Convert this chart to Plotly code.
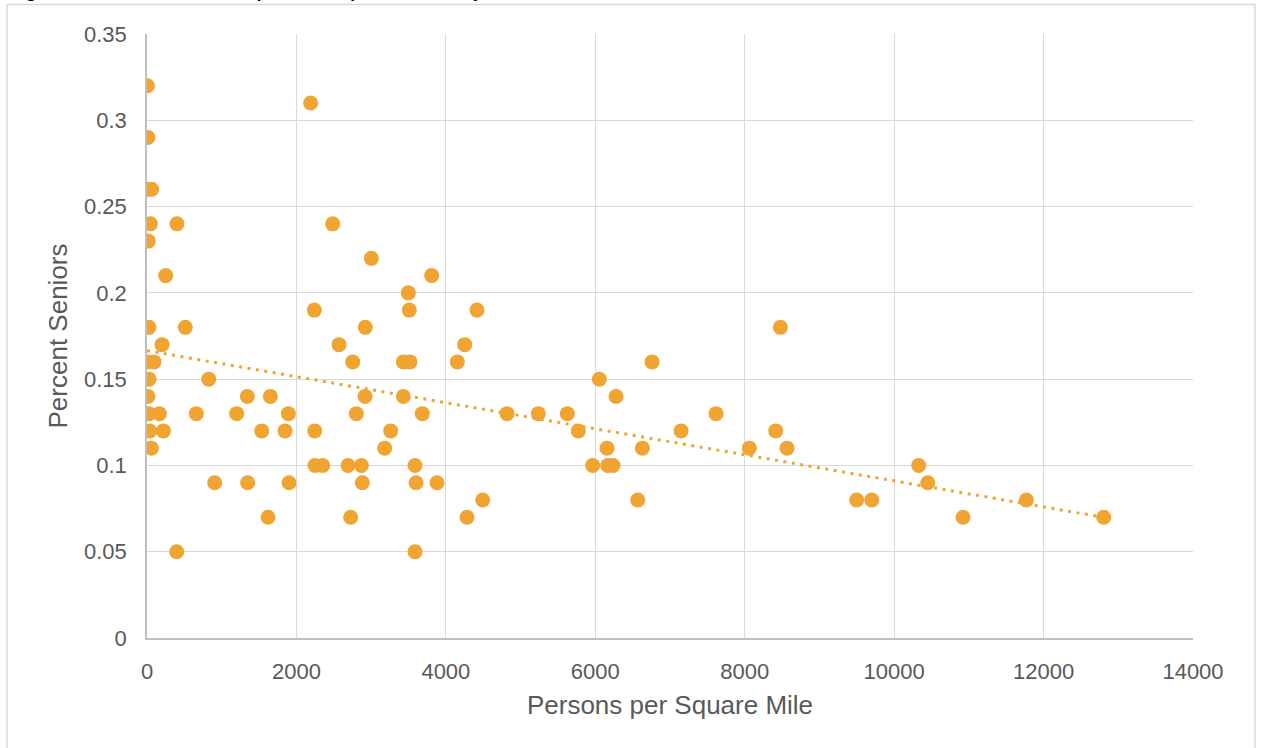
import numpy as np
import plotly.graph_objects as go

# Persons per square mile (x) and percent seniors (y)
density = [
    5, 2190, 13, 5, 63, 45, 401, 2485, 17, 250, 3003, 3810, 3498, 3511, 4417, 2240,
    27, 513, 2922, 8477, 201, 2570, 4252, 5, 94, 2753, 3431, 3520, 4154, 6760,
    27, 826, 6054, 13, 1343, 1651, 2918, 3431, 6278,
    27, 165, 660, 1200, 1892, 2802, 3685, 4819, 5238, 5626, 7616,
    36, 219, 1535, 1847, 2245, 3262, 5773, 7148, 8415,
    58, 3181, 6157, 6630, 8062, 8566,
    2249, 2351, 2690, 2869, 3587, 5965, 6166, 6237, 10329,
    906, 1347, 1901, 2882, 3601, 3882, 10450,
    4493, 6568, 9499, 9700, 11770,
    1620, 2726, 4283, 10922, 12805,
    397, 3587,
]
seniors = [
    0.32, 0.31, 0.29, 0.26, 0.26, 0.24, 0.24, 0.24, 0.23, 0.21, 0.22, 0.21, 0.20, 0.19, 0.19, 0.19,
    0.18, 0.18, 0.18, 0.18, 0.17, 0.17, 0.17, 0.16, 0.16, 0.16, 0.16, 0.16, 0.16, 0.16,
    0.15, 0.15, 0.15, 0.14, 0.14, 0.14, 0.14, 0.14, 0.14,
    0.13, 0.13, 0.13, 0.13, 0.13, 0.13, 0.13, 0.13, 0.13, 0.13, 0.13,
    0.12, 0.12, 0.12, 0.12, 0.12, 0.12, 0.12, 0.12, 0.12,
    0.11, 0.11, 0.11, 0.11, 0.11, 0.11,
    0.10, 0.10, 0.10, 0.10, 0.10, 0.10, 0.10, 0.10, 0.10,
    0.09, 0.09, 0.09, 0.09, 0.09, 0.09, 0.09,
    0.08, 0.08, 0.08, 0.08, 0.08,
    0.07, 0.07, 0.07, 0.07, 0.07,
    0.05, 0.05,
]

title_text = "Figure 2: Percent Seniors compared to Population Density"
x_title = "Persons per Square Mile"
y_title = "Percent Seniors"

ORANGE = "#F0A432"
GRID = "#D9D9D9"
AXIS = "#BFBFBF"
TICK = "#595959"
FONT = "Liberation Sans, Arial, sans-serif"

# linear trendline fitted to the data
slope, intercept = np.polyfit(density, seniors, 1)
tx = np.array([0, max(density)])
ty = slope * tx + intercept

fig = go.Figure()
fig.add_trace(go.Scatter(
    x=tx, y=ty, mode="lines",
    line=dict(color=ORANGE, width=3, dash="3px,5.5px"),
    hoverinfo="skip", showlegend=False,
))
fig.add_trace(go.Scatter(
    x=density, y=seniors, mode="markers",
    marker=dict(color=ORANGE, size=15, line=dict(width=0)),
    showlegend=False,
))

W, H = 1262, 748
L, R, T, B = 147, 1262 - 1193, 34, 748 - 638
pw, ph = W - L - R, H - T - B


def px(xp):
    return (xp - L) / pw


def py(yp):
    return (H - B - yp) / ph


fig.update_layout(
    width=W, height=H,
    margin=dict(l=L, r=R, t=T, b=B, pad=0),
    paper_bgcolor="white", plot_bgcolor="white",
    font=dict(family=FONT, color=TICK),
    xaxis=dict(
        range=[0, 14000], dtick=2000, tick0=0, tickformat="d",
        showgrid=True, gridcolor=GRID, gridwidth=1.3,
        showline=True, linecolor=AXIS, linewidth=1.5,
        zeroline=False, ticks="", ticklabelstandoff=13,
        tickfont=dict(size=22, color=TICK, family=FONT),
        title=dict(text=x_title, font=dict(size=26, color=TICK, family=FONT), standoff=13),
    ),
    yaxis=dict(
        range=[0, 0.35], dtick=0.05, tick0=0,
        showgrid=True, gridcolor=GRID, gridwidth=1.3,
        showline=True, linecolor=AXIS, linewidth=1.5,
        zeroline=False, ticks="", ticklabelstandoff=14,
        tickfont=dict(size=22, color=TICK, family=FONT),
        title=dict(text=y_title, font=dict(size=26, color=TICK, family=FONT), standoff=9),
    ),
    shapes=[
        dict(type="rect", xref="paper", yref="paper",
             x0=px(7), x1=px(1255), y0=py(780), y1=py(4.5),
             line=dict(color=GRID, width=1.5), fillcolor="rgba(0,0,0,0)", layer="below"),
    ],
    annotations=[
        # chart title, cropped at the top edge as in the reference image
        dict(text="<b>" + title_text + "</b>", xref="paper", yref="paper",
             x=px(9), y=py(3.6), xanchor="left", yanchor="bottom",
             showarrow=False, font=dict(size=17, color="black", family=FONT)),
    ],
)

fig.write_html(
    "out.html",
    config={"displayModeBar": False},
    post_script="document.body.style.margin='0';document.body.style.overflow='hidden';",
)
